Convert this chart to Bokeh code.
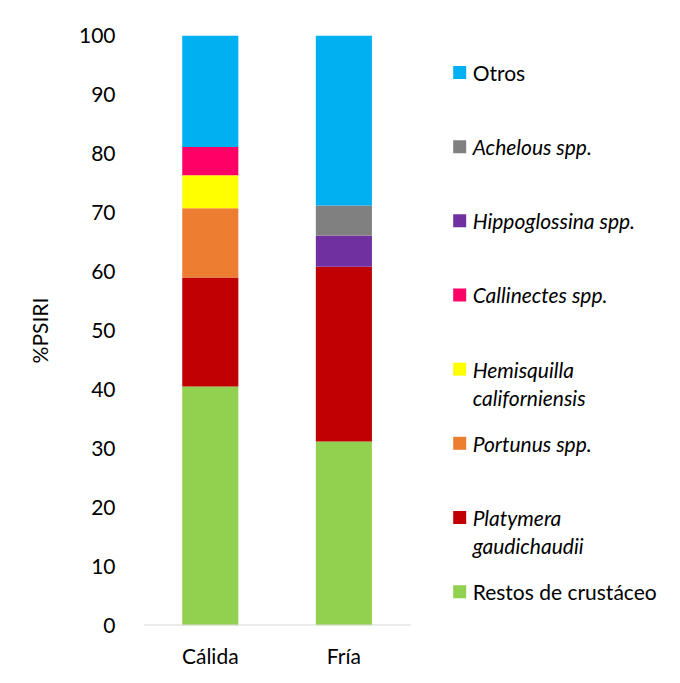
from bokeh.plotting import figure
from bokeh.models import Range1d, FixedTicker, ColumnDataSource
from bokeh.core.properties import value
from bokeh.embed import file_html
from bokeh.resources import INLINE

categories = ["Cálida", "Fría"]
series = ["Restos de crustáceo", "Platymera gaudichaudii", "Portunus spp.",
          "Hemisquilla californiensis", "Callinectes spp.", "Hippoglossina spp.",
          "Achelous spp.", "Otros"]
restos = [40.5, 31.2]
platymera = [18.5, 29.6]
portunus = [11.7, 0.0]
hemisquilla = [5.6, 0.0]
callinectes = [4.8, 0.0]
hippoglossina = [0.0, 5.3]
achelous = [0.0, 5.1]
otros = [18.9, 28.8]
colors = ["#92D050", "#C00000", "#ED7D31", "#FFFF00", "#FF0066", "#7030A0", "#808080", "#00B0F0"]
legend_lines = [["Restos de crustáceo"], ["Platymera", "gaudichaudii"], ["Portunus spp."],
                ["Hemisquilla", "californiensis"], ["Callinectes spp."], ["Hippoglossina spp."],
                ["Achelous spp."], ["Otros"]]
italic = [False, True, True, True, True, True, True, False]
y_ticks = [0, 10, 20, 30, 40, 50, 60, 70, 80, 90, 100]

FONT = "Lato"
FS = "21px"

xs = [i + 1 for i in range(len(categories))]
data = {"x": xs}
keys = []
for name, vals in zip(series, [restos, platymera, portunus, hemisquilla, callinectes,
                               hippoglossina, achelous, otros]):
    data[name] = vals
    keys.append(name)
src = ColumnDataSource(data)

p = figure(width=672, height=675, output_backend="svg", toolbar_location=None,
           x_range=Range1d(0.5, 4.46), y_range=Range1d(0, 100),
           min_border_left=143, min_border_right=0, min_border_top=35, min_border_bottom=50)
p.outline_line_color = None
p.grid.visible = False

p.vbar_stack(keys, x="x", width=0.42, color=colors, line_color=None, source=src)

# baseline
p.segment(x0=[0.5], y0=[0], x1=[len(categories) + 0.5], y1=[0], line_color="#d9d9d9", line_width=2)

# axes
p.xaxis.ticker = FixedTicker(ticks=xs)
p.xaxis.major_label_overrides = {x: c for x, c in zip(xs, categories)}
p.xaxis.axis_line_color = None
p.xaxis.major_tick_line_color = None
p.xaxis.minor_tick_line_color = None
p.xaxis.major_label_standoff = 11
p.xaxis.major_label_text_font = FONT
p.xaxis.major_label_text_font_size = FS
p.xaxis.major_label_text_color = "#000000"

p.yaxis.ticker = FixedTicker(ticks=y_ticks)
p.yaxis.axis_line_color = None
p.yaxis.major_tick_line_color = None
p.yaxis.minor_tick_line_color = None
p.yaxis.major_label_standoff = 22
p.yaxis.major_label_text_font = FONT
p.yaxis.major_label_text_font_size = FS
p.yaxis.major_label_text_color = "#000000"
p.yaxis.axis_label = "%PSIRI"
p.yaxis.axis_label_text_font = FONT
p.yaxis.axis_label_text_font_size = FS
p.yaxis.axis_label_text_font_style = "normal"
p.yaxis.axis_label_text_color = "#000000"
p.yaxis.axis_label_standoff = 24

# manual legend (top to bottom = reverse stack order)
sq_x = 2.867
tx_x = 2.964
top_y = 93.73
step = 12.57
line_gap = 4.75
n = len(series)
for rank, idx in enumerate(reversed(range(n))):
    y = top_y - rank * step
    p.scatter(x=[sq_x], y=[y], marker="square", size=13, color=colors[idx], line_color=None)
    for j, line in enumerate(legend_lines[idx]):
        p.text(x=[tx_x], y=[y - j * line_gap], text=[line],
               text_font=value(FONT), text_font_size=FS,
               text_font_style="italic" if italic[idx] else "normal",
               text_baseline="middle", text_align="left", text_color="#000000")

open("out.html", "w").write(file_html(p, INLINE))
